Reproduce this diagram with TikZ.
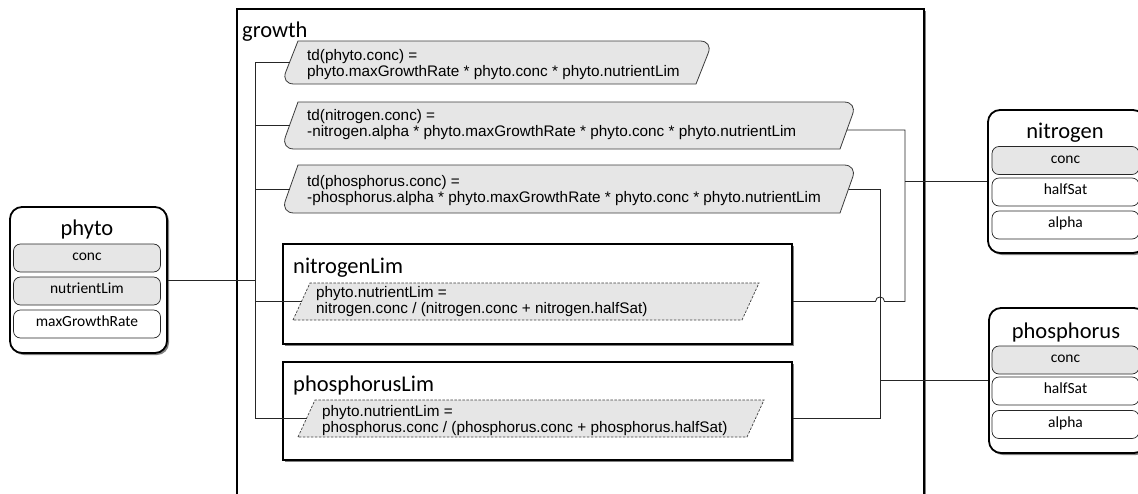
\documentclass[tikz,border=0pt]{standalone}
\usepackage{fontspec}
\setmainfont{Carlito}
\newfontfamily\arialf{Liberation Sans}
\usetikzlibrary{calc,shadows}
\definecolor{fillg}{RGB}{230,230,230}
\definecolor{lineg}{RGB}{60,60,60}
\newcommand\EqShape[5]{%
  \coordinate (#1bl) at (#2,#4);
  \coordinate (#1tl) at ({#2+17},#3);
  \coordinate (#1tr) at (#5,#3);
  \coordinate (#1br) at ({#5-17},#4);
  \filldraw[eqshape] (#1tl) -- ($(#1tr)+(-13,0)$)
    .. controls ($(#1tr)+(-5.5,0)$) and ($(#1tr)!5.5pt!(#1br)$) .. ($(#1tr)!13pt!(#1br)$)
    -- (#1br) -- ($(#1bl)+(13,0)$)
    .. controls ($(#1bl)+(5.5,0)$) and ($(#1bl)!5.5pt!(#1tl)$) .. ($(#1bl)!13pt!(#1tl)$) -- cycle;
  \coordinate (#1w) at ($(#1bl)!0.5!(#1tl)$);
}
\newcommand\DShape[5]{%
  \coordinate (#1bl) at (#2,#4);
  \coordinate (#1tl) at ({#2+17},#3);
  \coordinate (#1tr) at (#5,#3);
  \coordinate (#1br) at ({#5-17},#4);
  \filldraw[dshape] (#1bl) -- (#1tl) -- (#1tr) -- (#1br) -- cycle;
  \coordinate (#1w) at ($(#1bl)!0.5!(#1tl)$);
}
\begin{document}
\begin{tikzpicture}[x=1pt, y=-1pt,
  conn/.style={draw=black!85, line width=0.8pt},
  myshadow/.style={drop shadow={shadow xshift=2pt, shadow yshift=-2pt, fill=black!55, opacity=0.9}},
  bigbox/.style={draw=black, line width=2pt, fill=white, inner sep=0pt, myshadow},
  extbox/.style={draw=black, line width=1.8pt, rounded corners=12pt, fill=white, inner sep=0pt, myshadow},
  row/.style={draw=black!85, line width=0.7pt, rounded corners=7pt, fill=white, minimum width=147pt, minimum height=28pt, inner sep=0pt, text height=1.5ex, text depth=0.25ex, font=\fontsize{15.5}{18}\selectfont},
  grayrow/.style={row, fill=fillg},
  titlet/.style={font=\fontsize{22.5}{26}\selectfont, inner sep=0pt, anchor=base},
  eqshape/.style={draw=lineg, line width=0.8pt, fill=fillg},
  dshape/.style={draw=black!75, dash pattern=on 2.5pt off 1.5pt, line width=0.7pt, fill=fillg},
  eqtext/.style={font=\arialf\fontsize{15.3}{15.8}\selectfont, align=left, inner sep=0pt, anchor=west}
]
\useasboundingbox (0,0) rectangle (1138,493);
\clip (0,0) rectangle (1138,493);

% growth container
\node[bigbox, minimum width=687pt, minimum height=530pt, anchor=north west] (growth) at (236,8) {};
\node[titlet, anchor=base west] (growthT) at (242,37) {growth};

% equations
\EqShape{e1}{281}{41}{84}{713}
\EqShape{e2}{281}{102}{149}{857}
\EqShape{e3}{281}{165}{213}{857}
\node[eqtext] (e1t) at (307,64.8) {td(phyto.conc) =\\phyto.maxGrowthRate * phyto.conc * phyto.nutrientLim};
\node[eqtext] (e2t) at (307,124.8) {td(nitrogen.conc) =\\-nitrogen.alpha * phyto.maxGrowthRate * phyto.conc * phyto.nutrientLim};
\node[eqtext] (e3t) at (307,190.3) {td(phosphorus.conc) =\\-phosphorus.alpha * phyto.maxGrowthRate * phyto.conc * phyto.nutrientLim};
\coordinate (e2r) at ($(e2tr)!0.5957!(e2br)$);
\coordinate (e3r) at ($(e3tr)!0.5!(e3br)$);

% nitrogenLim
\node[bigbox, minimum width=509pt, minimum height=100pt] (nLim) at (537.5,294) {};
\node[titlet, anchor=base west] (nLimT) at (293,273) {nitrogenLim};
\DShape{d1}{293}{283}{320}{759}
\node[eqtext] (d1t) at (316,301.8) {phyto.nutrientLim =\\nitrogen.conc / (nitrogen.conc + nitrogen.halfSat)};

% phosphorusLim
\node[bigbox, minimum width=509pt, minimum height=98pt] (pLim) at (537.5,411) {};
\node[titlet, anchor=base west] (pLimT) at (293,391) {phosphorusLim};
\DShape{d2}{298}{400}{437}{764}
\node[eqtext] (d2t) at (322,420.3) {phyto.nutrientLim =\\phosphorus.conc / (phosphorus.conc + phosphorus.halfSat)};

% phyto
\node[extbox, minimum width=157pt, minimum height=146pt] (phyto) at (88.5,280) {};
\node[titlet] (phytoT) at (87,235) {phyto};
\node[grayrow] (phytoConc) at (87,258) {conc};
\node[grayrow] (phytoNL) at (87,291) {nutrientLim};
\node[row] (phytoMGR) at (87,324) {maxGrowthRate};

% nitrogen
\node[extbox, minimum width=157pt, minimum height=143pt] (nitrogen) at (1066.5,181.5) {};
\node[titlet] (nitrogenT) at (1065,138) {nitrogen};
\node[grayrow] (nConc) at (1065.5,160.5) {conc};
\node[row] (nHalf) at (1065.5,192) {halfSat};
\node[row] (nAlpha) at (1065.5,225) {alpha};

% phosphorus
\node[extbox, minimum width=157pt, minimum height=145pt] (phosphorus) at (1067.5,380.5) {};
\node[titlet] (phosphorusT) at (1066,338) {phosphorus};
\node[grayrow] (pConc) at (1065.5,360) {conc};
\node[row] (pHalf) at (1065.5,391) {halfSat};
\node[row] (pAlpha) at (1065.5,424.5) {alpha};

% connectors
\coordinate (bus) at (255,0);
\coordinate (nbus) at (905,0);
\coordinate (pbus) at (880,0);
\coordinate (nLimR) at (nLim.east |- d1w);
\coordinate (pLimR) at (pLim.east |- d2w);
\coordinate (hopC) at (nLimR -| pbus);

\draw[conn] (e1w -| bus) -- (d2w -| bus);
\draw[conn] (e1w) -- (e1w -| bus);
\draw[conn] (e2w) -- (e2w -| bus);
\draw[conn] (e3w) -- (e3w -| bus);
\draw[conn] (d1w) -- (d1w -| bus);
\draw[conn] (d2w) -- (d2w -| bus);
\draw[conn] (phyto.east) -- (phyto.east -| bus);

\draw[conn] (e2r) -- (e2r -| nbus) -- (nLimR -| nbus) -- ($(hopC)+(4.5,0)$)
  .. controls ($(hopC)+(4.5,-6)$) and ($(hopC)+(-4.5,-6)$) .. ($(hopC)+(-4.5,0)$) -- (nLimR);
\draw[conn] (nitrogen.west) -- (nitrogen.west -| nbus);
\draw[conn] (e3r) -- (e3r -| pbus) -- (pLimR -| pbus) -- (pLimR);
\draw[conn] (phosphorus.west) -- (phosphorus.west -| pbus);
\end{tikzpicture}
\end{document}
